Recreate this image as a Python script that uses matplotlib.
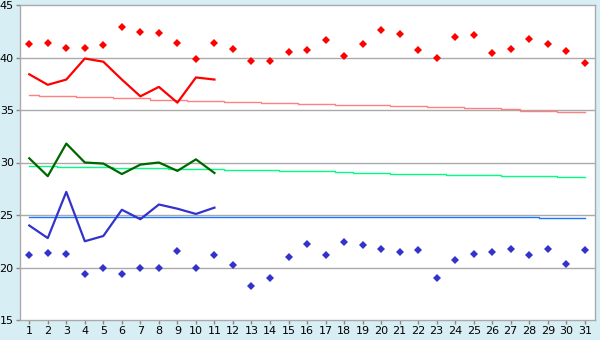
import matplotlib
matplotlib.use("Agg")
import matplotlib.pyplot as plt

days = list(range(1, 32))

# daily maximum / minimum points (whole month)
max_points = [41.3, 41.4, 40.9, 40.9, 41.2, 42.9, 42.4, 42.3, 41.4, 39.9,
              41.4, 40.8, 39.7, 39.7, 40.5, 40.7, 41.7, 40.1, 41.3, 42.6,
              42.2, 40.7, 40.0, 42.0, 42.1, 40.4, 40.8, 41.8, 41.3, 40.6, 39.5]
min_points = [21.2, 21.4, 21.3, 19.4, 20.0, 19.4, 20.0, 20.0, 21.6, 20.0,
              21.2, 20.2, 18.2, 19.0, 21.0, 22.2, 21.2, 22.4, 22.1, 21.8,
              21.5, 21.7, 19.0, 20.7, 21.3, 21.5, 21.8, 21.2, 21.8, 20.3, 21.7]

# observed so far (days 1-11)
obs_days = list(range(1, 12))
max_line = [38.4, 37.4, 37.9, 39.9, 39.6, 37.9, 36.3, 37.2, 35.7, 38.1, 37.9]
mean_line = [30.4, 28.7, 31.8, 30.0, 29.9, 28.9, 29.8, 30.0, 29.2, 30.3, 29.0]
min_line = [24.0, 22.8, 27.2, 22.5, 23.0, 25.5, 24.6, 26.0, 25.6, 25.1, 25.7]

# normals
max_normal = [36.4, 36.3, 36.3, 36.2, 36.2, 36.1, 36.1, 36.0, 36.0, 35.9,
              35.9, 35.8, 35.8, 35.7, 35.7, 35.6, 35.6, 35.5, 35.45, 35.45,
              35.35, 35.35, 35.25, 35.25, 35.15, 35.15, 35.05, 34.95, 34.9, 34.8, 34.8]
mean_normal = [29.63, 29.63, 29.54, 29.54, 29.54, 29.44, 29.44, 29.44, 29.35, 29.35,
               29.35, 29.25, 29.25, 29.25, 29.16, 29.16, 29.16, 29.06, 28.97, 28.97,
               28.87, 28.87, 28.87, 28.78, 28.78, 28.78, 28.68, 28.68, 28.68, 28.59, 28.59]
min_normal = [24.8] * 28 + [24.7] * 3

y_ticks = [15, 20, 25, 30, 35, 40, 45]

fig = plt.figure(figsize=(6, 3.4), dpi=100, facecolor="#d8eef5")
ax = fig.add_axes([20 / 600, 1 - 320 / 340, 575 / 600, 315 / 340])
ax.set_facecolor("white")

for y in y_ticks[1:-1]:
    ax.axhline(y, color="#aaaaaa", lw=1.0, zorder=1)

ax.plot(days, max_normal, color="#ff8080", lw=1.0, drawstyle="steps-mid", zorder=2)
ax.plot(days, mean_normal, color="#00ff80", lw=1.0, drawstyle="steps-mid", zorder=2)
ax.plot(days, min_normal, color="#1a75ff", lw=1.0, drawstyle="steps-mid", zorder=2)

ax.plot(obs_days, max_line, color="#ff0000", lw=1.6, zorder=3)
ax.plot(obs_days, mean_line, color="#006600", lw=1.6, zorder=3)
ax.plot(obs_days, min_line, color="#3333cc", lw=1.6, zorder=3)

ax.plot(days, max_points, ls="none", marker="D", ms=3.8, mew=0, color="#ff0000", zorder=4)
ax.plot(days, min_points, ls="none", marker="D", ms=3.8, mew=0, color="#3333cc", zorder=4)

ax.set_xlim(0.5, 31.55)
ax.set_ylim(15, 45)
ax.set_xticks(days)
ax.set_yticks(y_ticks)
ax.tick_params(labelsize=8, length=3, width=1, color="#888888", pad=1.5)
for s in ax.spines.values():
    s.set_color("#aaaaaa")
    s.set_linewidth(1.0)

fig.savefig("out.png", dpi=100, facecolor=fig.get_facecolor())
